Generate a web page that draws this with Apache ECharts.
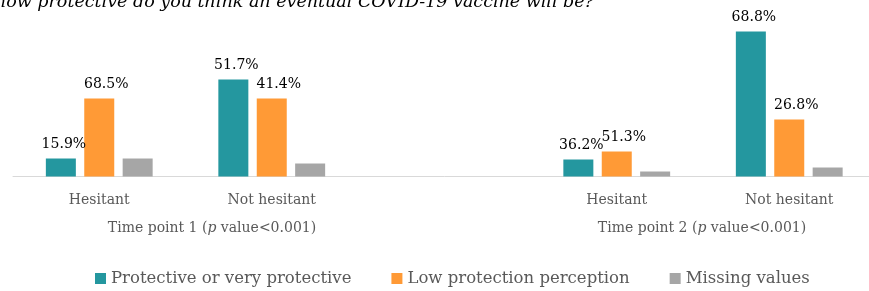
<!DOCTYPE html>
<html>
<head>
<meta charset="utf-8">
<script src="https://cdn.jsdelivr.net/npm/echarts@6/dist/echarts.min.js"></script>
<style>
html,body{margin:0;padding:0;background:#fff;overflow:hidden;}
#chart{width:890px;height:291px;}
</style>
</head>
<body>
<div id="chart"></div>
<script>
// Categories (empty slot separates the two time points)
const categories = ['Hesitant', 'Not hesitant', '', 'Hesitant', 'Not hesitant'];
const groupLabels = ['Time point 1', 'Time point 2'];
const seriesNames = ['Protective or very protective', 'Low protection perception', 'Missing values'];
// Bar heights (respondent counts, estimated)
const protective = [18, 97, null, 17, 145];
const lowProtection = [78, 78, null, 25, 57];
const missingVals = [18, 13, null, 5, 9];
// Percent labels shown on bars
const protectivePct = ['15.9%', '51.7%', '', '36.2%', '68.8%'];
const lowProtectionPct = ['68.5%', '41.4%', '', '51.3%', '26.8%'];
const titleText = 'how protective do you think an eventual COVID-19 vaccine will be?';

const FONT = 'DejaVu Serif';
const chart = echarts.init(document.getElementById('chart'), null, {renderer: 'canvas'});

function lbl(arr, off) {
  return {
    show: true, position: 'top', distance: 7, offset: off,
    fontFamily: FONT, fontSize: 14, color: '#000',
    formatter: p => arr[p.dataIndex] || ''
  };
}
const rich = {
  a: {fontFamily: FONT, fontSize: 14, color: '#595959', fill: '#595959'},
  p: {fontFamily: FONT, fontStyle: 'italic', fontSize: 14, color: '#595959', fill: '#595959'}
};

chart.setOption({
  backgroundColor: '#fff',
  animation: false,
  grid: {left: 13, width: 862.5, top: 16.5, bottom: 114.5, containLabel: false},
  xAxis: {
    type: 'category', data: categories,
    axisLine: {lineStyle: {color: '#D9D9D9', width: 1}},
    axisTick: {show: false},
    axisLabel: {fontFamily: FONT, fontSize: 14, color: '#595959', margin: 17, interval: 0}
  },
  yAxis: {type: 'value', min: 0, max: 160, show: false, splitLine: {show: false}},
  legend: {
    left: 90, top: 265, icon: 'rect', itemWidth: 11, itemHeight: 11, itemGap: 40,
    textStyle: {fontFamily: FONT, fontSize: 16.5, color: '#595959'},
    data: seriesNames
  },
  series: [
    {name: seriesNames[0], type: 'bar', data: protective, barWidth: 30, barGap: '28%',
     itemStyle: {color: '#24979F'}, label: lbl(protectivePct, [3, 0])},
    {name: seriesNames[1], type: 'bar', data: lowProtection, barWidth: 30, barGap: '28%',
     itemStyle: {color: '#FF9A36'}, label: lbl(lowProtectionPct, [7, 0])},
    {name: seriesNames[2], type: 'bar', data: missingVals, barWidth: 30, barGap: '28%',
     itemStyle: {color: '#A6A6A6'}}
  ],
  graphic: [
    {type: 'text', x: 594, y: 2, style: {text: titleText, font: 'italic 17.5px "DejaVu Serif"', fill: '#000', align: 'right', verticalAlign: 'middle'}},
    {type: 'text', x: 212, y: 228, style: {
      text: '{a|' + groupLabels[0] + ' (}{p|p}{a| value<0.001)}', align: 'center', verticalAlign: 'middle', rich: rich}},
    {type: 'text', x: 702, y: 228, style: {
      text: '{a|' + groupLabels[1] + ' (}{p|p}{a| value<0.001)}', align: 'center', verticalAlign: 'middle', rich: rich}}
  ]
});
</script>
</body>
</html>
